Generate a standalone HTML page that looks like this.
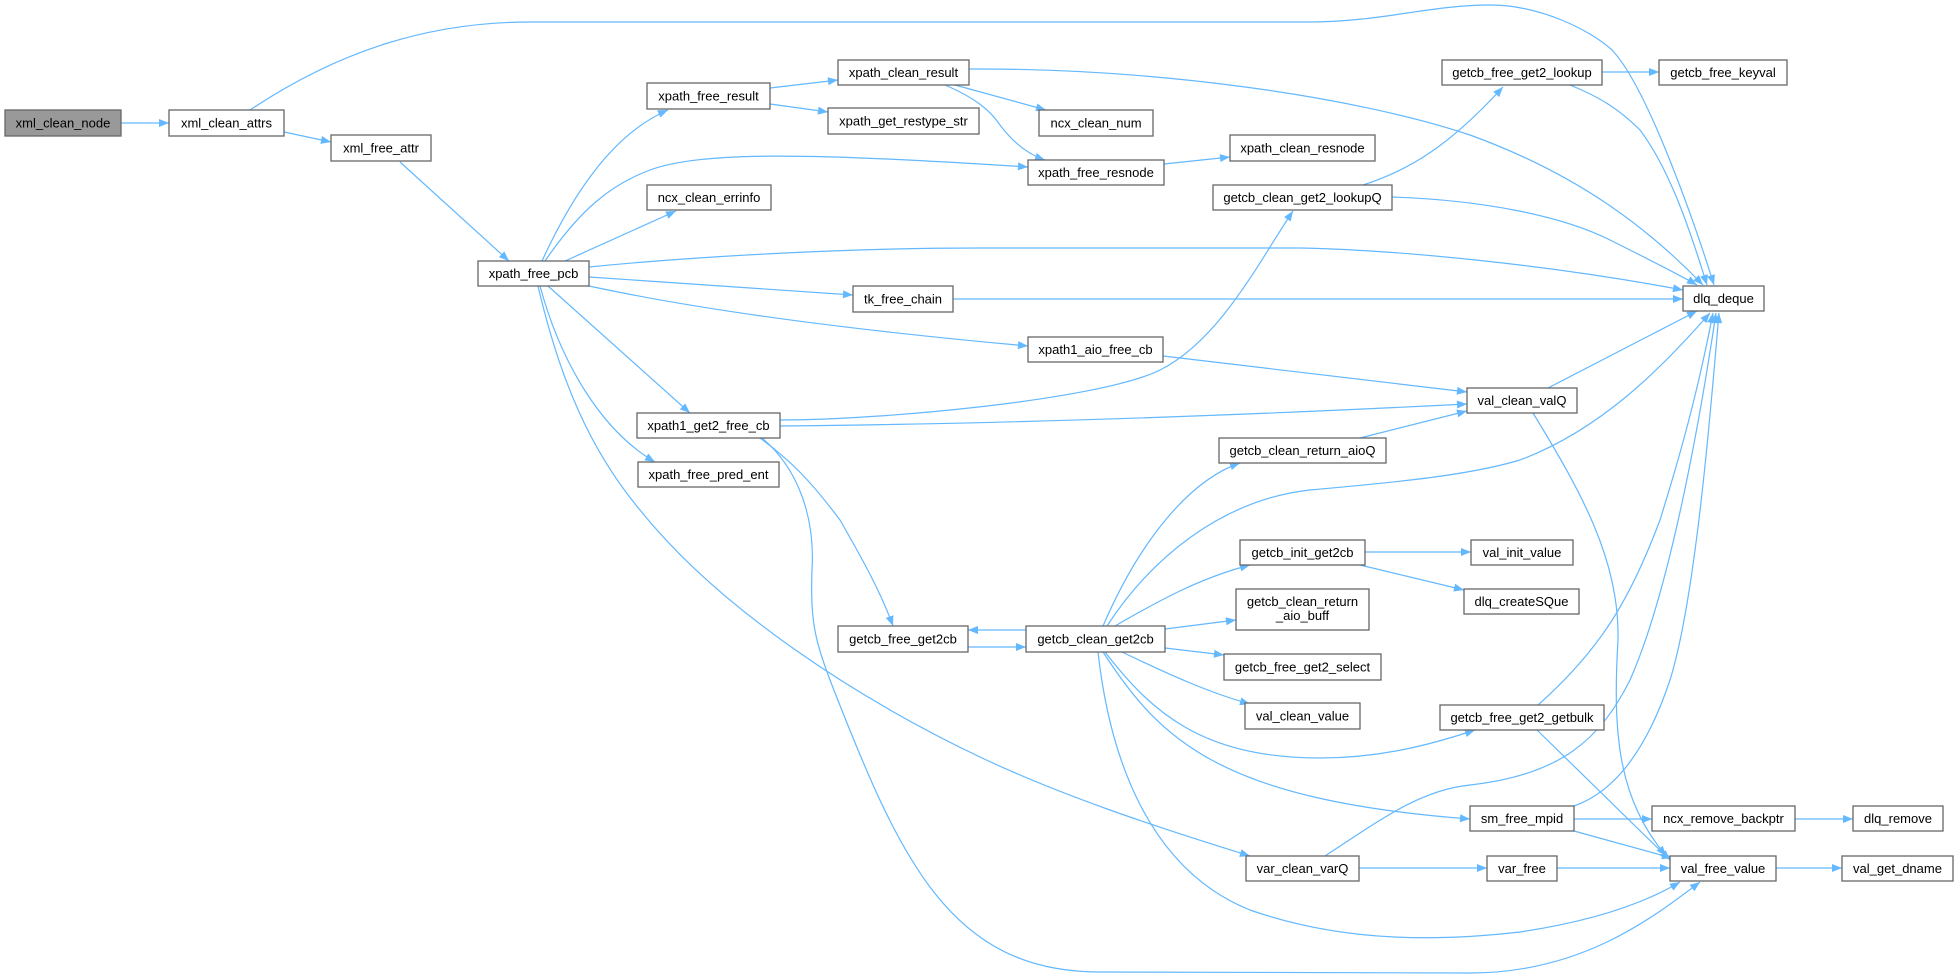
<!DOCTYPE html>
<html><head><meta charset="utf-8"><style>
html,body{margin:0;padding:0;background:#fff;}
svg{display:block;}
text{font-family:"Liberation Sans",Arial,sans-serif;font-size:13px;fill:#000;}
.e{fill:none;stroke:#63b8ff;stroke-width:1.2;}
.n{fill:#fff;stroke:#666;stroke-width:1.3;}
</style></head><body>
<svg width="1959" height="980" viewBox="0 0 1959 980" xmlns="http://www.w3.org/2000/svg">
<defs>
<marker id="a" viewBox="0 0 10 8" refX="10" refY="4" markerWidth="11" markerHeight="8" markerUnits="userSpaceOnUse" orient="auto">
<path d="M0,0 L10,4 L0,8 z" fill="#63b8ff"/></marker>
</defs>
<g marker-end="url(#a)">
<path class="e" d="M121,123 L169,123"/>
<path class="e" d="M250,110 C340,50 430,22 530,22 L1310,22 C1380,22 1430,5 1490,5 C1540,5 1590,30 1612,50 C1650,90 1700,240 1714,285"/>
<path class="e" d="M284,132 L331,142"/>
<path class="e" d="M400,162 L509,261"/>
<path class="e" d="M542,261 C570,200 610,135 668,110"/>
<path class="e" d="M545,261 C580,210 610,185 650,170 C700,152 800,152 1028,167"/>
<path class="e" d="M565,261 L676,211"/>
<path class="e" d="M589,267 C700,256 850,248 980,248 L1300,248 C1400,250 1550,265 1683,290"/>
<path class="e" d="M589,277 L853,295"/>
<path class="e" d="M589,286 C700,310 850,330 1028,346"/>
<path class="e" d="M548,286 L690,413"/>
<path class="e" d="M540,286 C560,360 600,430 655,462"/>
<path class="e" d="M538,286 C560,380 590,450 640,510 C720,610 860,700 980,757 C1060,795 1150,825 1250,856"/>
<path class="e" d="M770,88 L838,80"/>
<path class="e" d="M770,104 L828,112"/>
<path class="e" d="M969,69 C1150,68 1350,95 1470,135 C1580,175 1650,230 1703,285"/>
<path class="e" d="M955,85 L1046,110"/>
<path class="e" d="M945,85 C975,98 990,110 1000,125 C1015,145 1030,155 1045,160"/>
<path class="e" d="M1164,164 L1230,157"/>
<path class="e" d="M1363,185 C1410,170 1450,145 1503,87"/>
<path class="e" d="M1392,197 C1480,200 1560,215 1610,240 C1650,260 1680,275 1697,285"/>
<path class="e" d="M1602,72 L1659,72"/>
<path class="e" d="M1570,85 C1600,97 1620,110 1640,130 C1670,170 1690,230 1707,285"/>
<path class="e" d="M953,299 L1683,299"/>
<path class="e" d="M1163,356 L1467,392"/>
<path class="e" d="M780,420 C880,420 1100,400 1160,370 C1220,340 1260,260 1293,211"/>
<path class="e" d="M780,426 C1000,424 1250,415 1467,404"/>
<path class="e" d="M760,438 C790,460 810,480 840,520 C860,555 880,590 893,626"/>
<path class="e" d="M762,438 C800,470 815,520 812,570 C810,620 815,640 830,680 C900,860 950,972 1100,972 L1470,973 C1580,973 1650,920 1700,882"/>
<path class="e" d="M1548,388 L1697,311"/>
<path class="e" d="M1533,413 C1580,490 1620,560 1618,640 C1612,740 1620,800 1666,856"/>
<path class="e" d="M1360,438 L1467,411"/>
<path class="e" d="M1103,626 C1140,540 1190,480 1240,463"/>
<path class="e" d="M1107,626 C1150,560 1220,500 1310,490 C1400,482 1470,475 1520,460 C1600,430 1660,370 1710,313"/>
<path class="e" d="M1115,626 C1160,600 1200,578 1250,565"/>
<path class="e" d="M1165,629 L1236,620"/>
<path class="e" d="M1165,648 L1224,655"/>
<path class="e" d="M1122,652 C1170,675 1210,693 1250,704"/>
<path class="e" d="M1026,630 L968,630"/>
<path class="e" d="M968,647 L1026,647"/>
<path class="e" d="M1105,652 C1150,710 1200,758 1320,758 C1380,758 1430,745 1475,730"/>
<path class="e" d="M1103,652 C1160,740 1220,800 1470,819"/>
<path class="e" d="M1098,652 C1110,760 1150,870 1250,910 C1350,945 1450,940 1520,932 C1600,920 1650,900 1680,882"/>
<path class="e" d="M1365,552 L1471,552"/>
<path class="e" d="M1360,565 L1464,590"/>
<path class="e" d="M1538,705 C1600,650 1630,600 1660,520 C1685,440 1700,380 1713,313"/>
<path class="e" d="M1537,730 L1670,860"/>
<path class="e" d="M1325,856 C1380,820 1420,790 1470,785 C1560,775 1600,740 1630,680 C1670,590 1700,420 1716,313"/>
<path class="e" d="M1359,868 L1487,868"/>
<path class="e" d="M1574,806 C1620,790 1650,740 1670,680 C1695,600 1710,420 1719,313"/>
<path class="e" d="M1574,819 L1652,819"/>
<path class="e" d="M1574,831 L1672,858"/>
<path class="e" d="M1795,819 L1853,819"/>
<path class="e" d="M1557,868 L1670,868"/>
<path class="e" d="M1776,868 L1842,868"/>
</g>
<g text-anchor="middle">
<rect x="5" y="110" width="116" height="26" fill="#999" stroke="#666" stroke-width="1.3"/><text x="63" y="127.5">xml_clean_node</text>
<rect class="n" x="169" y="110" width="115" height="26"/><text x="226.5" y="127.5">xml_clean_attrs</text>
<rect class="n" x="331" y="135" width="100" height="26"/><text x="381" y="152.5">xml_free_attr</text>
<rect class="n" x="478" y="261" width="111" height="25"/><text x="533.5" y="278">xpath_free_pcb</text>
<rect class="n" x="647" y="83" width="123" height="26"/><text x="708.5" y="100.5">xpath_free_result</text>
<rect class="n" x="838" y="60" width="131" height="25"/><text x="903.5" y="77">xpath_clean_result</text>
<rect class="n" x="828" y="108" width="151" height="26"/><text x="903.5" y="125.5">xpath_get_restype_str</text>
<rect class="n" x="647" y="185" width="124" height="25"/><text x="709" y="202">ncx_clean_errinfo</text>
<rect class="n" x="853" y="286" width="100" height="26"/><text x="903" y="303.5">tk_free_chain</text>
<rect class="n" x="637" y="413" width="143" height="25"/><text x="708.5" y="430">xpath1_get2_free_cb</text>
<rect class="n" x="638" y="462" width="141" height="25"/><text x="708.5" y="479">xpath_free_pred_ent</text>
<rect class="n" x="1039" y="110" width="114" height="26"/><text x="1096" y="127.5">ncx_clean_num</text>
<rect class="n" x="1028" y="160" width="136" height="25"/><text x="1096" y="177">xpath_free_resnode</text>
<rect class="n" x="1230" y="135" width="145" height="26"/><text x="1302.5" y="152.5">xpath_clean_resnode</text>
<rect class="n" x="1213" y="185" width="179" height="25"/><text x="1302.5" y="202">getcb_clean_get2_lookupQ</text>
<rect class="n" x="1028" y="337" width="135" height="25"/><text x="1095.5" y="354">xpath1_aio_free_cb</text>
<rect class="n" x="1219" y="438" width="167" height="25"/><text x="1302.5" y="455">getcb_clean_return_aioQ</text>
<rect class="n" x="1442" y="60" width="160" height="25"/><text x="1522" y="77">getcb_free_get2_lookup</text>
<rect class="n" x="1659" y="60" width="128" height="25"/><text x="1723" y="77">getcb_free_keyval</text>
<rect class="n" x="1683" y="286" width="81" height="25"/><text x="1723.5" y="303">dlq_deque</text>
<rect class="n" x="1467" y="388" width="110" height="25"/><text x="1522" y="405">val_clean_valQ</text>
<rect class="n" x="838" y="626" width="130" height="26"/><text x="903" y="643.5">getcb_free_get2cb</text>
<rect class="n" x="1026" y="626" width="139" height="26"/><text x="1095.5" y="643.5">getcb_clean_get2cb</text>
<rect class="n" x="1240" y="540" width="125" height="25"/><text x="1302.5" y="557">getcb_init_get2cb</text>
<rect class="n" x="1236" y="589" width="133" height="41"/><text x="1302.5" y="606">getcb_clean_return</text><text x="1302.5" y="620">_aio_buff</text>
<rect class="n" x="1224" y="654" width="157" height="26"/><text x="1302.5" y="671.5">getcb_free_get2_select</text>
<rect class="n" x="1245" y="703" width="115" height="26"/><text x="1302.5" y="720.5">val_clean_value</text>
<rect class="n" x="1440" y="705" width="164" height="25"/><text x="1522" y="722">getcb_free_get2_getbulk</text>
<rect class="n" x="1246" y="856" width="113" height="25"/><text x="1302.5" y="873">var_clean_varQ</text>
<rect class="n" x="1471" y="540" width="102" height="25"/><text x="1522" y="557">val_init_value</text>
<rect class="n" x="1464" y="589" width="115" height="25"/><text x="1521.5" y="606">dlq_createSQue</text>
<rect class="n" x="1470" y="806" width="104" height="25"/><text x="1522" y="823">sm_free_mpid</text>
<rect class="n" x="1652" y="806" width="143" height="25"/><text x="1723.5" y="823">ncx_remove_backptr</text>
<rect class="n" x="1853" y="806" width="90" height="25"/><text x="1898" y="823">dlq_remove</text>
<rect class="n" x="1487" y="856" width="70" height="25"/><text x="1522" y="873">var_free</text>
<rect class="n" x="1670" y="856" width="106" height="25"/><text x="1723" y="873">val_free_value</text>
<rect class="n" x="1842" y="856" width="111" height="25"/><text x="1897.5" y="873">val_get_dname</text>
</g>
</svg>
</body></html>
